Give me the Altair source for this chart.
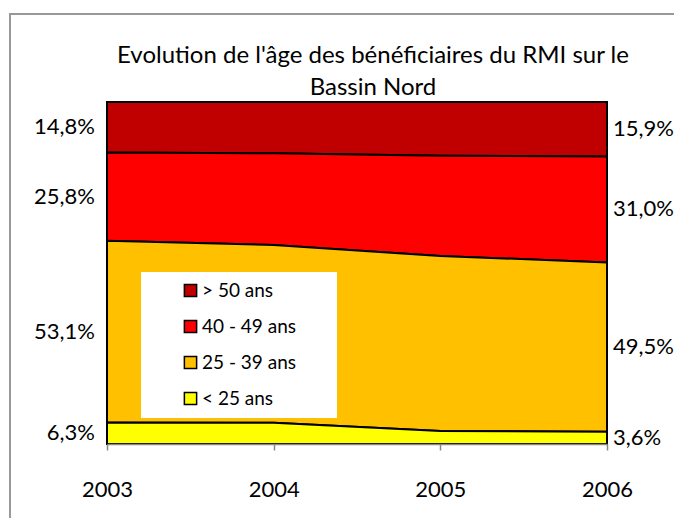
import altair as alt
import pandas as pd

title_lines = ["Evolution de l'âge des bénéficiaires du RMI sur le", "Bassin Nord"]
years = [2003, 2004, 2005, 2006]
categories = ["> 50 ans", "40 - 49 ans", "25 - 39 ans", "< 25 ans"]
colors = ["#C00000", "#FF0000", "#FFC000", "#FFFF00"]
v_50 = [14.8, 15.0, 15.7, 15.9]
v_40 = [25.8, 26.8, 29.2, 31.0]
v_25 = [53.1, 52.0, 51.0, 49.5]
v_lt25 = [6.3, 6.2, 3.8, 3.6]

series = {"> 50 ans": v_50, "40 - 49 ans": v_40, "25 - 39 ans": v_25, "< 25 ans": v_lt25}
stack_idx = {"< 25 ans": 0, "25 - 39 ans": 1, "40 - 49 ans": 2, "> 50 ans": 3}

rows = []
for cat, vals in series.items():
    for y, v in zip(years, vals):
        rows.append({"year": y, "cat": cat, "value": v, "idx": stack_idx[cat]})
df = pd.DataFrame(rows)

# label positions (middle of each band) at first and last year
lab_rows = []
for i, y in enumerate(years):
    if y not in (years[0], years[-1]):
        continue
    total = sum(series[c][i] for c in series)
    cum = 0.0
    for cat in sorted(series, key=lambda c: stack_idx[c]):
        v = series[cat][i]
        lab_rows.append({"year": y, "cat": cat, "mid": (cum + v / 2) / total,
                         "label": f"{v:.1f}".replace(".", ",") + "%"})
        cum += v
lab = pd.DataFrame(lab_rows)

FONT = "Lato"
xenc = alt.X("year:Q", scale=alt.Scale(domain=[2003, 2006], nice=False, zero=False),
             axis=alt.Axis(values=years, format="d", title=None, grid=False,
                           labelFontSize=22, labelFont=FONT, labelColor="black",
                           labelFlush=False,
                           domainColor="#888888", tickColor="#888888", tickSize=6,
                           labelPadding=29, domainWidth=1.5, tickWidth=1.5, zindex=1))
yscale = alt.Scale(domain=[0, 1], nice=False)

one = pd.DataFrame({"a": [0]})

frame = alt.Chart(one).mark_rect(
    fill=None, stroke="#999999", strokeWidth=2
).encode(x=alt.value(-97), x2=alt.value(620), y=alt.value(-88), y2=alt.value(460))

title = alt.Chart(one).mark_text(
    align="center", baseline="alphabetic", fontSize=24, font=FONT, color="black",
    lineHeight=32
).encode(x=alt.value(266), y=alt.value(-39), text=alt.value(title_lines))

area = alt.Chart(df).mark_area(stroke="black", strokeWidth=2, interpolate="linear").encode(
    x=xenc,
    y=alt.Y("value:Q", stack="normalize", scale=yscale, axis=None),
    color=alt.Color("cat:N", scale=alt.Scale(domain=categories, range=colors),
                    legend=alt.Legend(title=None, orient="none", legendX=74, legendY=179,
                                      symbolType="square", symbolSize=150,
                                      symbolStrokeColor="black", symbolStrokeWidth=1.5,
                                      labelFontSize=19, labelFont=FONT, labelColor="black",
                                      rowPadding=16, labelOffset=2, padding=0)),
    order=alt.Order("idx:Q", sort="ascending"),
)

legbg = alt.Chart(one).mark_rect(fill="white").encode(
    x=alt.value(34), x2=alt.value(230), y=alt.value(170), y2=alt.value(316))

left = alt.Chart(lab[lab["year"] == years[0]]).mark_text(
    align="right", baseline="middle", dx=-12, fontSize=22, font=FONT, color="black"
).encode(x=xenc, y=alt.Y("mid:Q", scale=yscale, axis=None), text="label:N")

right = alt.Chart(lab[lab["year"] == years[-1]]).mark_text(
    align="left", baseline="middle", dx=6, fontSize=22, font=FONT, color="black"
).encode(x=xenc, y=alt.Y("mid:Q", scale=yscale, axis=None), text="label:N")

chart = alt.layer(frame, title, area, legbg, left, right).properties(
    width=500, height=342,
    padding={"left": 99, "top": 94, "right": 67, "bottom": 74},
    autosize="none",
    background="white",
).configure_view(stroke=None)

chart.save("out.html", embed_options={"renderer": "svg", "actions": False})
